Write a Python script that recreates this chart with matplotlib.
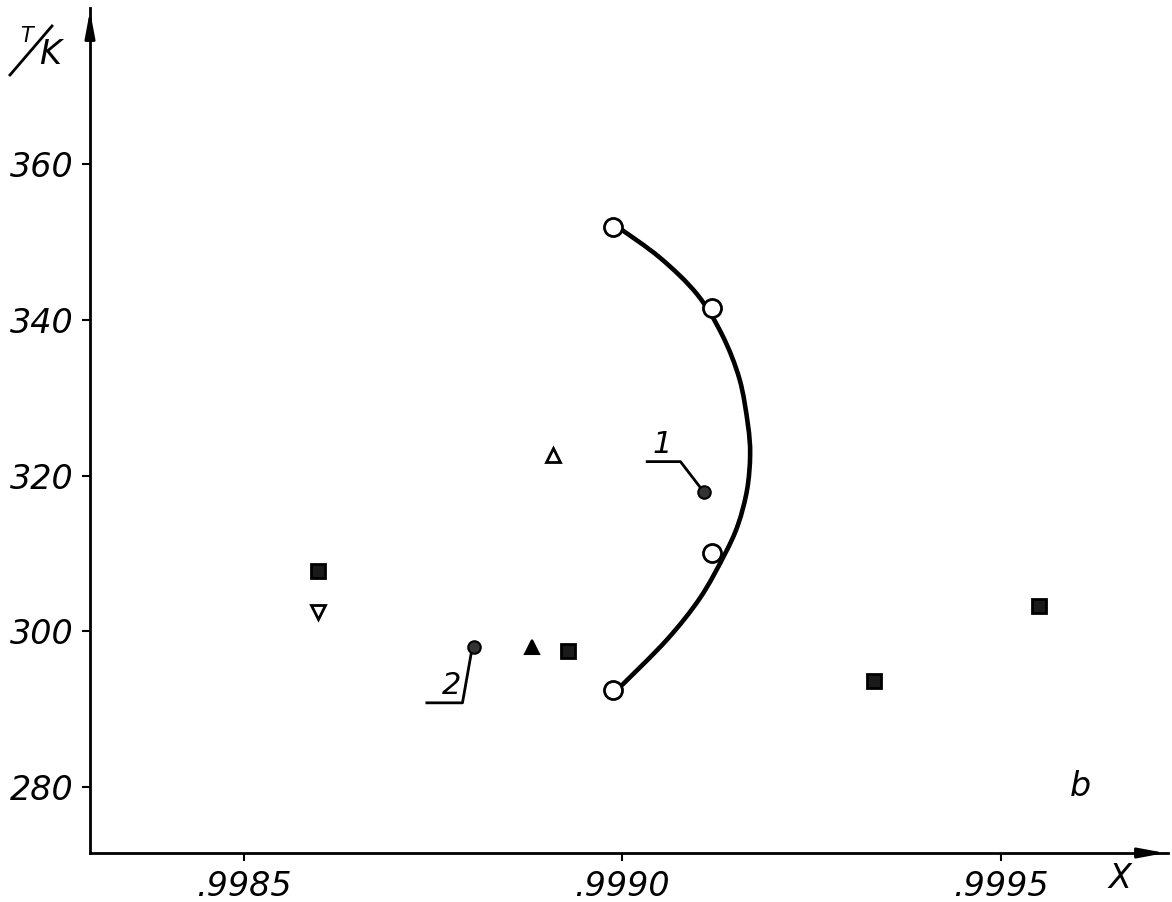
import matplotlib
matplotlib.use("Agg")
import matplotlib.pyplot as plt
from matplotlib.path import Path
from matplotlib.patches import PathPatch
from matplotlib.lines import Line2D

# ---- data ----
curve_x = [0.998995, 0.999050, 0.999099, 0.999132, 0.999155, 0.999166, 0.999169,
           0.999165, 0.999153, 0.999135, 0.999103, 0.999059, 0.999000]
curve_T = [351.9, 348.0, 343.3, 338.1, 332.4, 326.6, 322.7,
           318.2, 313.7, 309.8, 304.3, 298.9, 293.1]

open_circ_x = [0.998988, 0.999119, 0.999119, 0.998988]
open_circ_T = [351.9, 341.5, 310.1, 292.5]

filled_circ_x = [0.999108, 0.998804]
filled_circ_T = [317.9, 298.0]

open_tri_up_x = [0.998909]
open_tri_up_T = [322.7]

filled_tri_x = [0.998881]
filled_tri_T = [298.0]

open_tri_down_x = [0.998598]
open_tri_down_T = [302.5]

square_x = [0.998929, 0.998598, 0.999332, 0.999551]
square_T = [297.4, 307.7, 293.6, 303.2]

xticks = [0.9985, 0.9990, 0.9995]
xtick_labels = [".9985", ".9990", ".9995"]
yticks = [280, 300, 320, 340, 360]
ytick_labels = ["280", "300", "320", "340", "360"]

# annotation leader lines
lead1_x = [0.999033, 0.999077, 0.999103]
lead1_T = [321.8, 321.8, 318.5]
lead2_x = [0.998742, 0.998789, 0.998801]
lead2_T = [290.8, 290.8, 297.4]

# ---- figure ----
fig = plt.figure(figsize=(11.72, 9.02), dpi=100)
ax = fig.add_axes([90 / 1172, 49 / 902, (1168 - 90) / 1172, (894 - 49) / 902])

ax.set_xlim(0.998297, 0.999721)
ax.set_ylim(271.5, 380.1)

font = dict(family="DejaVu Sans", style="italic")

# smooth hand-drawn curve through the read points (Catmull-Rom -> cubic Bezier)
pts = list(zip(curve_x, curve_T))
verts = [pts[0]]
codes = [Path.MOVETO]
n = len(pts)
for i in range(n - 1):
    p0 = pts[i - 1] if i > 0 else pts[i]
    p1 = pts[i]
    p2 = pts[i + 1]
    p3 = pts[i + 2] if i + 2 < n else pts[i + 1]
    c1 = (p1[0] + (p2[0] - p0[0]) / 6, p1[1] + (p2[1] - p0[1]) / 6)
    c2 = (p2[0] - (p3[0] - p1[0]) / 6, p2[1] - (p3[1] - p1[1]) / 6)
    verts += [c1, c2, p2]
    codes += [Path.CURVE4] * 3
ax.add_patch(PathPatch(Path(verts, codes), facecolor="none", edgecolor="black",
                       lw=3.3, capstyle="round", zorder=2))

ax.plot(open_circ_x, open_circ_T, "o", ms=13, mfc="white", mec="black", mew=2, zorder=3)
ax.plot(filled_circ_x, filled_circ_T, "o", ms=9, mfc="#333333", mec="black", mew=1.5, zorder=3)
ax.plot(open_tri_up_x, open_tri_up_T, "^", ms=10, mfc="white", mec="black", mew=2, zorder=3)
ax.plot(filled_tri_x, filled_tri_T, "^", ms=10, mfc="black", mec="black", mew=1.5, zorder=3)
ax.plot(open_tri_down_x, open_tri_down_T, "v", ms=10, mfc="white", mec="black", mew=2, zorder=3)
ax.plot(square_x, square_T, "s", ms=10.5, mfc="#1a1a1a", mec="black", mew=2, zorder=3)

ax.plot(lead1_x, lead1_T, color="black", lw=2)
ax.plot(lead2_x, lead2_T, color="black", lw=2)
ax.text(0.999053, 322.2, "1", fontsize=22, ha="center", va="bottom", **font)
ax.text(0.998775, 291.2, "2", fontsize=22, ha="center", va="bottom", **font)

# axes styling
for s in ["top", "right"]:
    ax.spines[s].set_visible(False)
for s in ["left", "bottom"]:
    ax.spines[s].set_linewidth(2)
ax.set_xticks(xticks)
ax.set_xticklabels(xtick_labels, fontsize=24, **font)
ax.set_yticks(yticks)
ax.set_yticklabels(ytick_labels, fontsize=24, **font)
ax.tick_params(axis="both", direction="out", length=6, width=1.5, pad=6)

# arrow heads
ax.annotate("", xy=(1.0, 0), xytext=(0.97, 0), xycoords="axes fraction",
            arrowprops=dict(arrowstyle="-|>,head_length=1.6,head_width=0.3",
                            lw=2, color="black"))
ax.annotate("", xy=(0, 1.0), xytext=(0, 0.96), xycoords="axes fraction",
            arrowprops=dict(arrowstyle="-|>,head_length=1.6,head_width=0.3",
                            lw=2, color="black"))

# axis labels
fig.text(1120 / 1172, 1 - 878 / 902, "X", fontsize=24, ha="center", va="center", **font)
fig.text(1080 / 1172, 1 - 787 / 902, "b", fontsize=24, ha="center", va="center", **font)
fig.text(26 / 1172, 1 - 36 / 902, "T", fontsize=15, ha="center", va="center", **font)
fig.add_artist(Line2D([10 / 1172, 52 / 1172], [1 - 75 / 902, 1 - 26 / 902],
                      color="black", lw=2, transform=fig.transFigure))
fig.text(50 / 1172, 1 - 54 / 902, "K", fontsize=24, ha="center", va="center", **font)

fig.savefig("out.png", dpi=100, facecolor="white")
